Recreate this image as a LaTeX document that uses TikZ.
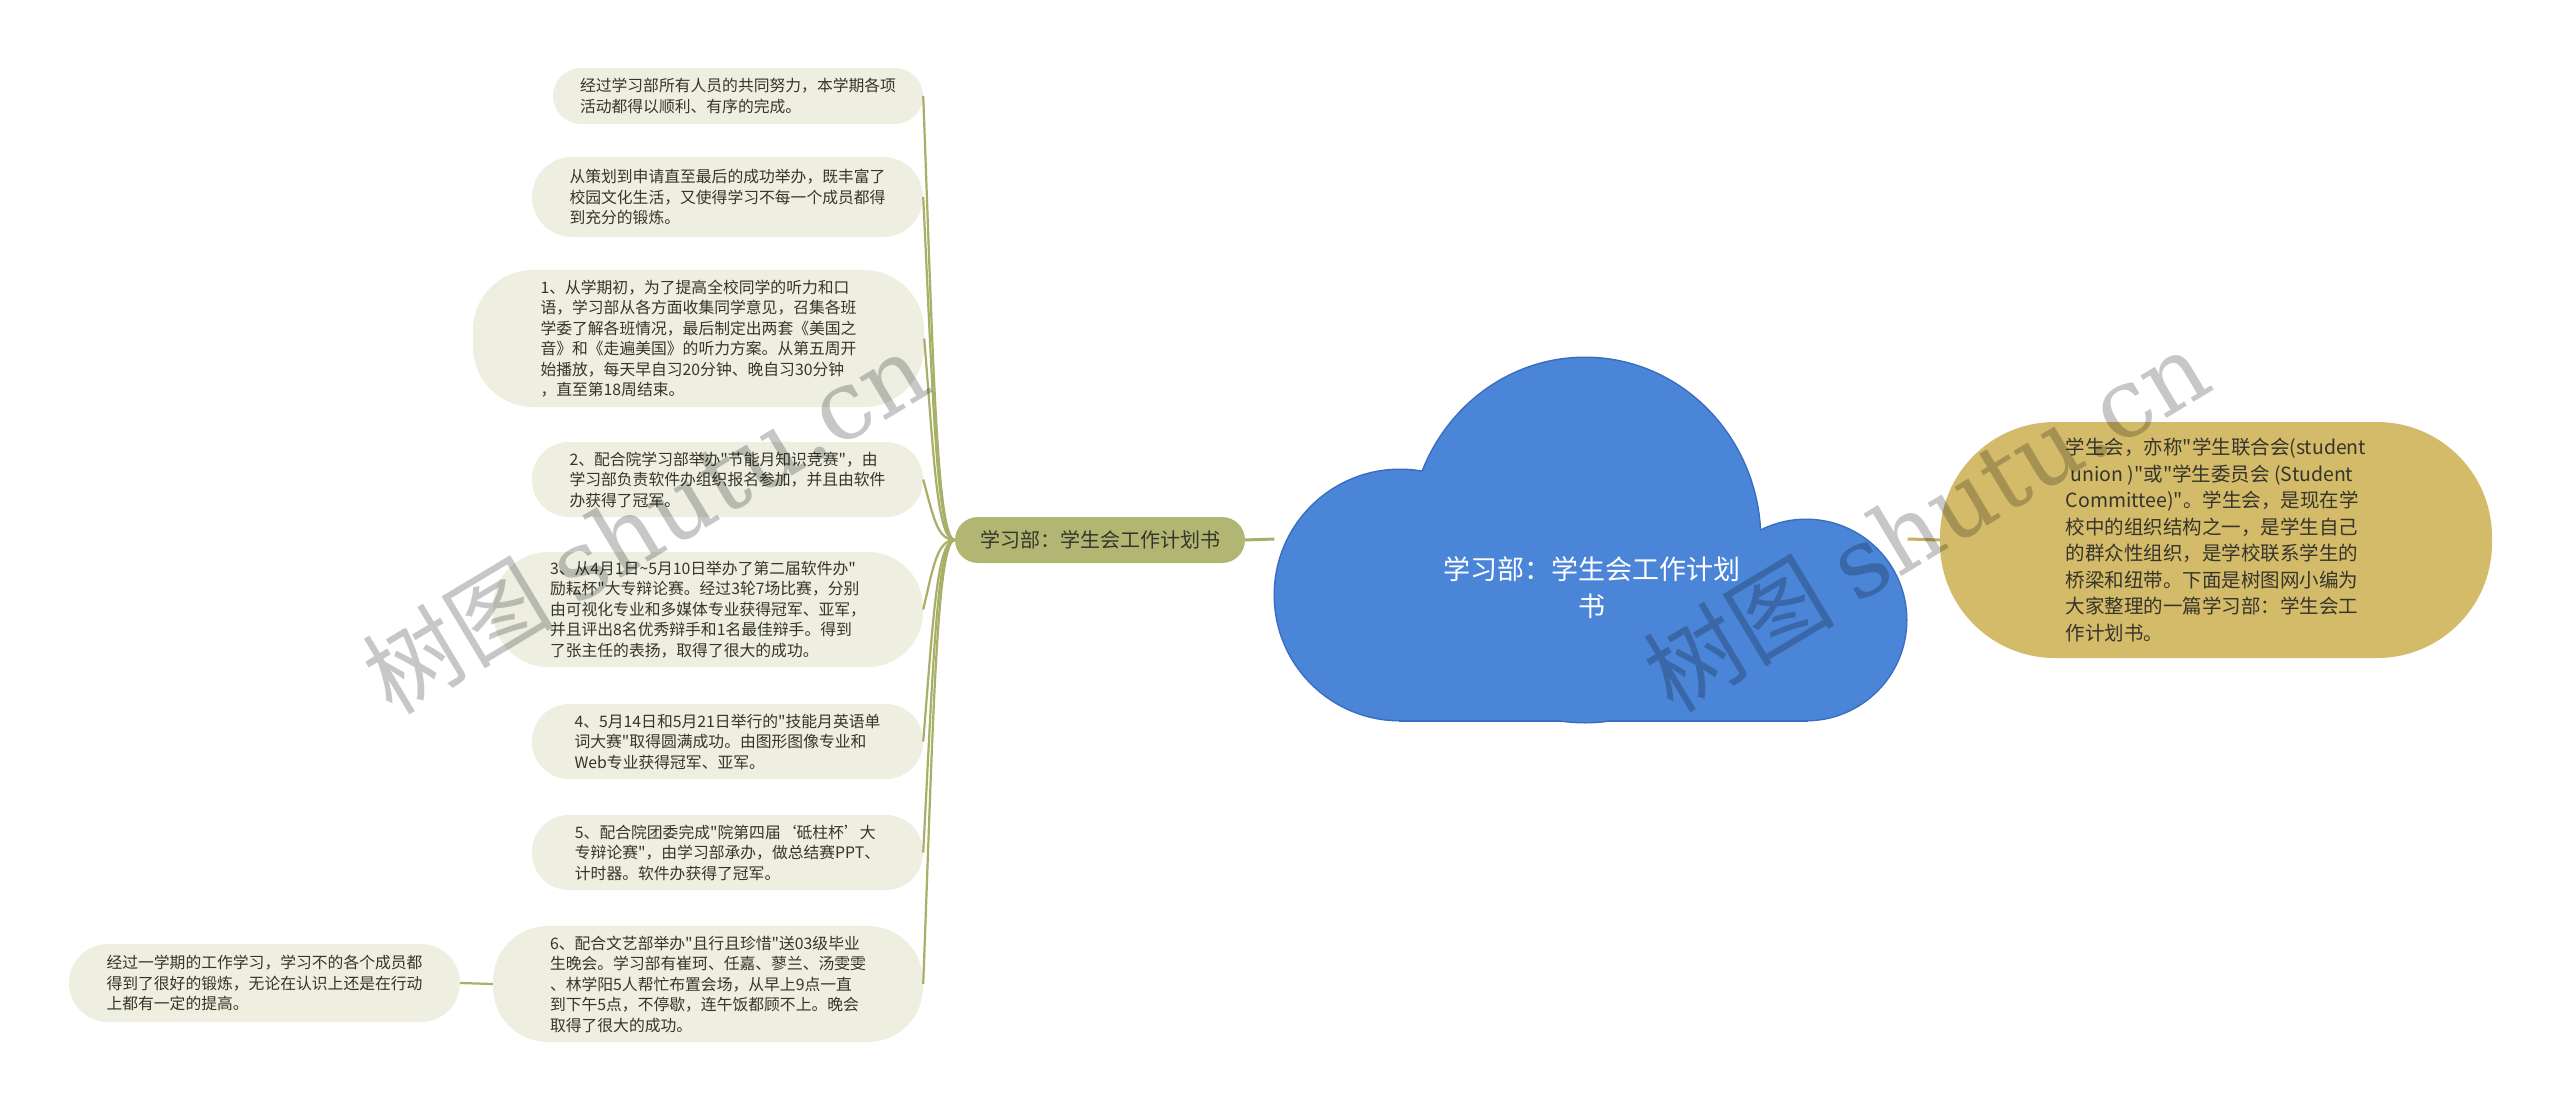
\documentclass[tikz,border=0pt]{standalone}
\usepackage{fontspec}
\setmainfont{Noto Sans CJK SC}[Ligatures=TeXOff]
\newfontfamily\cjkfont{Noto Sans CJK SC}[Ligatures=TeXOff]
\newfontfamily\wmserif{DejaVu Serif}
\usetikzlibrary{calc}
\definecolor{leaffill}{HTML}{EEEFE1}
\definecolor{leaftext}{HTML}{35352A}
\definecolor{oline}{HTML}{A8AF66}
\definecolor{bfill}{HTML}{B2B673}
\definecolor{cloudfill}{HTML}{4B85D8}
\definecolor{cloudline}{HTML}{3A6DC0}
\definecolor{goldfill}{HTML}{D4BB6A}
\definecolor{goldline}{HTML}{C8B062}
\newcommand\leafsize{\cjkfont\fontsize{15.8}{20.5}\selectfont}
\newcommand\leafcurve[2]{\draw[leafline] (br.west) .. controls +(-18,0) and +(10,#2) .. (#1.east);}
\tikzset{
  leaf/.style={fill=leaffill, text=leaftext, font=\leafsize, align=left, inner sep=0pt},
  leafline/.style={draw=oline, line width=2.2pt},
  branchbox/.style={fill=bfill, text=leaftext, font=\cjkfont\fontsize{20}{24}\selectfont,
     minimum width=290pt, minimum height=46pt, rounded corners=23pt, inner sep=0pt},
  mainline/.style={draw=oline, line width=3pt},
  goldconn/.style={draw=goldline, line width=3pt},
  goldbox/.style={fill=goldfill, text=leaftext, font=\cjkfont\fontsize{19.5}{26.5}\selectfont,
     align=left, inner sep=0pt},
  rootlbl/.style={text=white, font=\cjkfont\fontsize{27}{37}\selectfont, align=center},
  wm/.style={text=black, text opacity=0.22, font=\fontsize{96}{106}\selectfont, inner sep=0pt}
}
\begin{document}
\begin{tikzpicture}[x=1pt,y=-1pt]
\useasboundingbox (0,0) rectangle (2560,1111);
\fill[white] (0,0) rectangle (2560,1111);

% cloud shape
\draw[cloudline, line width=3pt] (1400,595) circle[radius=125pt];
\draw[cloudline, line width=3pt] (1585,540) ellipse[x radius=175pt, y radius=182pt];
\draw[cloudline, line width=3pt] (1806,620) circle[radius=100pt];
\draw[cloudline, line width=3pt] (1400,560) rectangle (1806,720);
\fill[cloudfill] (1400,595) circle[radius=125pt];
\fill[cloudfill] (1585,540) ellipse[x radius=175pt, y radius=182pt];
\fill[cloudfill] (1806,620) circle[radius=100pt];
\fill[cloudfill] (1400,560) rectangle (1806,720);
\node[minimum width=633pt, minimum height=362pt, inner sep=0pt] (root) at (1591,539) {};
\node[rootlbl] (rootlabel) at (1592,588) {学习部：学生会工作计划\\书};

% branch
\node[branchbox] (br) at (1100,540) {学习部：学生会工作计划书};
\draw[mainline] (br.east) -- (root.west);

% right node
\node[goldbox, minimum width=552pt, minimum height=236pt, rounded corners=115pt] (rt) at (2216,540)
{学生会，亦称"学生联合会(student\\
\hspace*{0.25em}union )"或"学生委员会 (Student\\
Committee)"。学生会，是现在学\\
校中的组织结构之一，是学生自己\\
的群众性组织，是学校联系学生的\\
桥梁和纽带。下面是树图网小编为\\
大家整理的一篇学习部：学生会工\\
作计划书。};
\draw[goldconn] (root.east) -- (rt.west);

% leaves
\node[leaf, minimum width=370pt, minimum height=56pt, rounded corners=28pt] (n1) at (738,96)
{经过学习部所有人员的共同努力，本学期各项\\活动都得以顺利、有序的完成。};
\node[leaf, minimum width=391pt, minimum height=80pt, rounded corners=40pt] (n2) at (727.5,197)
{从策划到申请直至最后的成功举办，既丰富了\\校园文化生活，又使得学习不每一个成员都得\\到充分的锻炼。};
\node[leaf, minimum width=451pt, minimum height=137pt, rounded corners=60pt] (n3) at (698.5,338.5)
{1、从学期初，为了提高全校同学的听力和口\\语，学习部从各方面收集同学意见，召集各班\\学委了解各班情况，最后制定出两套《美国之\\音》和《走遍美国》的听力方案。从第五周开\\始播放，每天早自习20分钟、晚自习30分钟\\，直至第18周结束。};
\node[leaf, minimum width=391pt, minimum height=75pt, rounded corners=37pt] (n4) at (727.5,479.5)
{2、配合院学习部举办"节能月知识竞赛"，由\\学习部负责软件办组织报名参加，并且由软件\\办获得了冠军。};
\node[leaf, minimum width=430pt, minimum height=115pt, rounded corners=55pt] (n5) at (708,609.5)
{3、从4月1日\textasciitilde 5月10日举办了第二届软件办"\\励耘杯"大专辩论赛。经过3轮7场比赛，分别\\由可视化专业和多媒体专业获得冠军、亚军，\\并且评出8名优秀辩手和1名最佳辩手。得到\\了张主任的表扬，取得了很大的成功。};
\node[leaf, minimum width=391pt, minimum height=75pt, rounded corners=37pt] (n6) at (727.5,741.5)
{4、5月14日和5月21日举行的"技能月英语单\\词大赛"取得圆满成功。由图形图像专业和\\Web专业获得冠军、亚军。};
\node[leaf, minimum width=391pt, minimum height=75pt, rounded corners=37pt] (n7) at (727.5,852.5)
{5、配合院团委完成"院第四届‘砥柱杯’大\\专辩论赛"，由学习部承办，做总结赛PPT、\\计时器。软件办获得了冠军。};
\node[leaf, minimum width=430pt, minimum height=116pt, rounded corners=55pt] (n8) at (708,984)
{6、配合文艺部举办"且行且珍惜"送03级毕业\\生晚会。学习部有崔珂、任嘉、蓼兰、汤雯雯\\、林学阳5人帮忙布置会场，从早上9点一直\\到下午5点，不停歇，连午饭都顾不上。晚会\\取得了很大的成功。};
\node[leaf, minimum width=391pt, minimum height=78pt, rounded corners=39pt] (lft) at (264.5,983)
{经过一学期的工作学习，学习不的各个成员都\\得到了很好的锻炼，无论在认识上还是在行动\\上都有一定的提高。};

\leafcurve{n1}{266}
\leafcurve{n2}{206}
\leafcurve{n3}{121}
\leafcurve{n4}{36}
\leafcurve{n5}{-42}
\leafcurve{n6}{-121}
\leafcurve{n7}{-188}
\leafcurve{n8}{-266}
\draw[leafline] (lft.east) -- (n8.west);

% watermarks
\node[wm, rotate=31] (wm1) at (645,522) {\cjkfont 树图 \wmserif shutu.cn};
\node[wm, rotate=31] (wm2) at (1926,520) {\cjkfont 树图 \wmserif shutu.cn};
\end{tikzpicture}
\end{document}
